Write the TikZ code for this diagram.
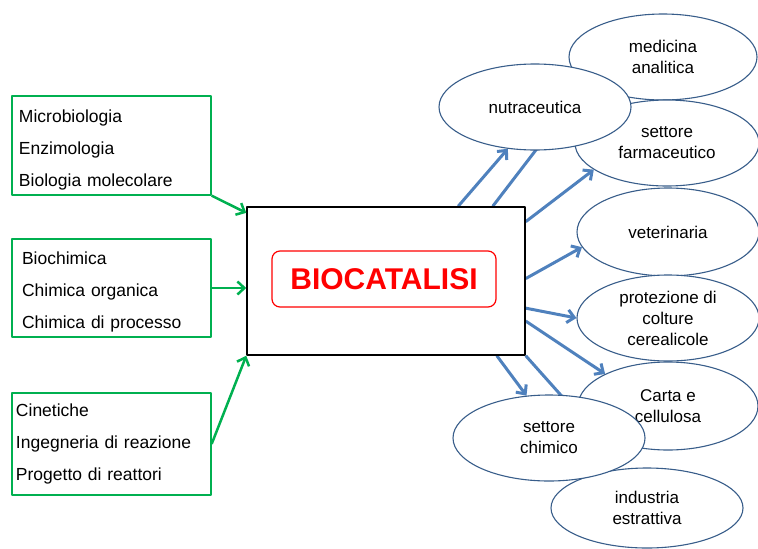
\documentclass[tikz,border=0pt]{standalone}
\usepackage{fontspec}
\setmainfont{Liberation Sans}
\usetikzlibrary{shapes.geometric,arrows.meta,backgrounds}
\definecolor{grn}{HTML}{00B050}
\definecolor{arrblue}{HTML}{4F81BD}
\definecolor{elblue}{HTML}{385D8A}
\begin{document}
\begin{tikzpicture}[x=1pt, y=-1pt, line join=round,
 grbox/.style={draw=grn, line width=1.3pt, align=left, text width=185pt, inner xsep=7pt, font=\fontsize{17.5}{32}\selectfont},
 elli/.style={ellipse, draw=elblue, line width=1.1pt, fill=white, inner sep=0pt, align=center, font=\fontsize{17}{21}\selectfont},
 grarr/.style={draw=grn, line width=2.5pt, -{Straight Barb[length=7pt, width=13pt]}},
 blarr/.style={draw=arrblue, line width=3pt, -{Straight Barb[length=7pt, width=13pt]}}]
\useasboundingbox (0,0) rectangle (758,549);
\node[grbox, minimum height=99pt, text height=21pt] (biol) at (111.5,145.5) {Microbiologia\\Enzimologia\\Biologia molecolare};
\node[grbox, minimum height=98pt, text height=21pt, inner xsep=10pt, text width=179pt] (chem) at (111.5,288) {Biochimica\\Chimica organica\\Chimica di processo};
\node[grbox, minimum height=102pt, inner xsep=4pt, text width=191pt] (eng) at (111.5,444) {Cinetiche\\Ingegneria di reazione\\Progetto di reattori};
\node[draw, line width=1.5pt, fill=white, minimum width=278pt, minimum height=148pt] (box) at (386,281) {};
\node[draw=red, line width=1.2pt, rounded corners=8pt, minimum width=224pt, minimum height=56pt, text=red, font=\fontsize{30}{36}\selectfont\bfseries] (biocat) at (384,279) {BIOCATALISI};
% ellissi
\node[elli, minimum width=188pt, minimum height=86pt] (medic) at (663,57) {medicina\\analitica};
\node[elli, minimum width=184pt, minimum height=86pt] (farm) at (667,143) {settore\\farmaceutico};
\node[elli, minimum width=192pt, minimum height=86pt] (nutra) at (535,107) {nutraceutica};
\node[elli, minimum width=182pt, minimum height=88pt] (vet) at (668,232) {veterinaria};
\node[elli, minimum width=182pt, minimum height=86pt] (prot) at (668,318) {protezione di\\colture\\cerealicole};
\node[elli, minimum width=180pt, minimum height=88pt] (carta) at (668,406) {Carta e\\cellulosa};
\node[elli, minimum width=192pt, minimum height=80pt] (indu) at (647,508) {industria\\estrattiva};
\node[elli, minimum width=192pt, minimum height=86pt] (sett) at (549,438) {settore\\chimico};
\coordinate (toind) at (600,439);
% frecce
\draw[grarr] (biol.south east) -- (box.154);
\draw[grarr] (chem.east) -- (chem.east -| box.west);
\draw[grarr] (eng.east) -- (box.south west);
\begin{scope}[on background layer]
\draw[blarr] (box.46) -- (nutra.237);
\draw[blarr] (box.35) -- (medic.199);
\draw[blarr] (box.23) -- (farm.200);
\draw[blarr] (box.1) -- (vet.190);
\draw[blarr] (box.-11) -- (prot.180);
\draw[blarr] (box.-16) -- (carta.153);
\draw[blarr] (box.-34) -- (sett.118);
\draw[blarr] (box.south east) -- (toind);
\end{scope}
\end{tikzpicture}
\end{document}
